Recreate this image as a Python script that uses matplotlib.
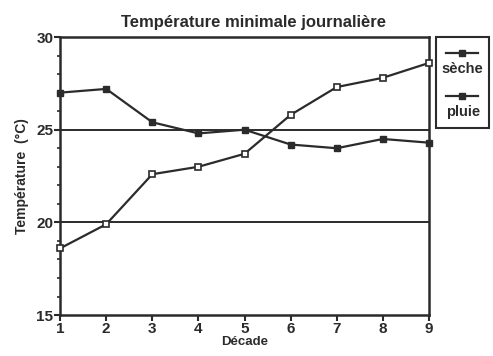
import numpy as np
import matplotlib.pyplot as plt
from matplotlib.lines import Line2D
from matplotlib.patches import Rectangle
from matplotlib.ticker import MultipleLocator

plt.rcParams['font.family'] = ['Liberation Sans', 'DejaVu Sans']
plt.rcParams['font.weight'] = 'bold'

decade = [1, 2, 3, 4, 5, 6, 7, 8, 9]
seche = [27.0, 27.2, 25.4, 24.8, 25.0, 24.2, 24.0, 24.5, 24.3]
pluie = [18.6, 19.9, 22.6, 23.0, 23.7, 25.8, 27.3, 27.8, 28.6]

ink = '#2b2b2b'

fig = plt.figure(figsize=(4.93, 3.56), dpi=100)
ax = fig.add_axes([0.122, 0.115, 0.748, 0.781])

ax.axhline(20, color=ink, lw=1.4, zorder=1)
ax.axhline(25, color=ink, lw=1.4, zorder=1)

ax.plot(decade, seche, color=ink, lw=1.6, marker='s', ms=5,
        mfc=ink, mec=ink, clip_on=False, zorder=3)
ax.plot(decade, pluie, color=ink, lw=1.6, marker='s', ms=5,
        mfc='white', mec=ink, mew=1.2, clip_on=False, zorder=3)

ax.set_xlim(1, 9)
ax.set_ylim(15, 30)
ax.set_xticks(decade)
ax.yaxis.set_major_locator(MultipleLocator(5))
ax.yaxis.set_minor_locator(MultipleLocator(1))
for s in ax.spines.values():
    s.set_linewidth(1.8)
    s.set_color(ink)
ax.tick_params(axis='both', which='major', length=4, width=1.5, color=ink,
               labelsize=11, pad=1, labelcolor=ink)
ax.tick_params(axis='y', which='minor', length=2.5, width=1.2, color=ink)

ax.set_title('Température minimale journalière', fontsize=12,
             fontweight='bold', color=ink, pad=7, x=0.525)
ax.set_xlabel('Décade', fontsize=9.5, fontweight='bold', color=ink, labelpad=0)
ax.set_ylabel('Température  (°C)', fontsize=10, fontweight='bold',
              color=ink, labelpad=5)

# legend box on the right, markers above labels
fig.add_artist(Rectangle((0.885, 0.64), 0.107, 0.255, transform=fig.transFigure,
                         fill=False, lw=1.5, ec=ink))
for y, lab in [(0.852, 'sèche'), (0.73, 'pluie')]:
    fig.add_artist(Line2D([0.905, 0.97], [y, y], transform=fig.transFigure,
                          color=ink, lw=1.6))
    fig.add_artist(Line2D([0.9375], [y], transform=fig.transFigure,
                          color=ink, marker='s', ms=5, mfc=ink, mec=ink))
    fig.text(0.9385, y - 0.045, lab, ha='center', va='center',
             fontsize=10.5, fontweight='bold', color=ink)

fig.savefig('out.png', dpi=100)
